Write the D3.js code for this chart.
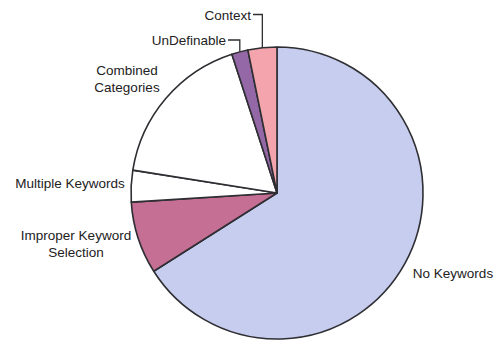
<!DOCTYPE html>
<html>
<head>
<meta charset="utf-8">
<script src="https://cdn.jsdelivr.net/npm/d3@7"></script>
<style>
  html, body { margin: 0; padding: 0; background: #fff; }
  svg { display: block; }
  text { font-family: "Liberation Sans", Arial, sans-serif; fill: #222; }
</style>
</head>
<body>
<svg id="chart" width="500" height="343"></svg>
<script>
// Share of cases by category (percent), clockwise from 12 o'clock
const categories = ["No Keywords", "Improper Keyword Selection", "Multiple Keywords",
                    "Combined Categories", "UnDefinable", "Context"];
const shares = [66, 8, 3.5, 17.5, 1.8, 3.2];
const colors = ["#c6cdef", "#c66f95", "#ffffff", "#ffffff", "#9468a6", "#f3a4ac"];

const width = 500, height = 343;
const cx = 277, cy = 193, radius = 146;

const svg = d3.select("#chart");
const g = svg.append("g").attr("transform", `translate(${cx},${cy})`);

const data = categories.map((c, i) => ({ name: c, value: shares[i], color: colors[i] }));

const pie = d3.pie().sort(null).value(d => d.value);
const arc = d3.arc().innerRadius(0).outerRadius(radius);
const arcs = pie(data);

g.selectAll("path.slice")
  .data(arcs)
  .join("path")
  .attr("class", "slice")
  .attr("d", arc)
  .attr("fill", d => d.data.color)
  .attr("stroke", "#2e2e33")
  .attr("stroke-width", 1.6)
  .attr("stroke-linejoin", "round");

// Label placement (absolute page coordinates), with optional elbow leaders
const labelSpec = {
  "No Keywords":                { x: 453, y: 273, anchor: "middle", lines: ["No Keywords"] },
  "Improper Keyword Selection": { x: 76,  y: 235, anchor: "middle", lines: ["Improper Keyword", "Selection"] },
  "Multiple Keywords":          { x: 70,  y: 183, anchor: "middle", lines: ["Multiple Keywords"] },
  "Combined Categories":        { x: 127, y: 70,  anchor: "middle", lines: ["Combined", "Categories"] },
  "UnDefinable":                { x: 226, y: 40,  anchor: "end", lines: ["UnDefinable"], leader: 40 },
  "Context":                    { x: 251, y: 15,  anchor: "end", lines: ["Context"], leader: 14.5 }
};

const labels = svg.append("g").attr("font-size", 13.5);

arcs.forEach(a => {
  const spec = labelSpec[a.data.name];
  const t = labels.append("text")
    .attr("text-anchor", spec.anchor)
    .attr("x", spec.x)
    .attr("y", spec.y)
    .attr("dy", "0.35em");
  spec.lines.forEach((ln, i) => {
    t.append("tspan").attr("x", spec.x).attr("dy", i === 0 ? "0.35em" : "1.3em").text(ln);
  });
  t.attr("dy", null);

  if (spec.leader !== undefined) {
    const mid = (a.startAngle + a.endAngle) / 2;
    const ex = cx + radius * Math.sin(mid);
    const ey = cy - radius * Math.cos(mid);
    labels.append("path")
      .attr("d", `M${spec.x + 2},${spec.leader} H${ex} V${ey}`)
      .attr("fill", "none")
      .attr("stroke", "#2e2e33")
      .attr("stroke-width", 1.3);
  }
});
</script>
</body>
</html>
